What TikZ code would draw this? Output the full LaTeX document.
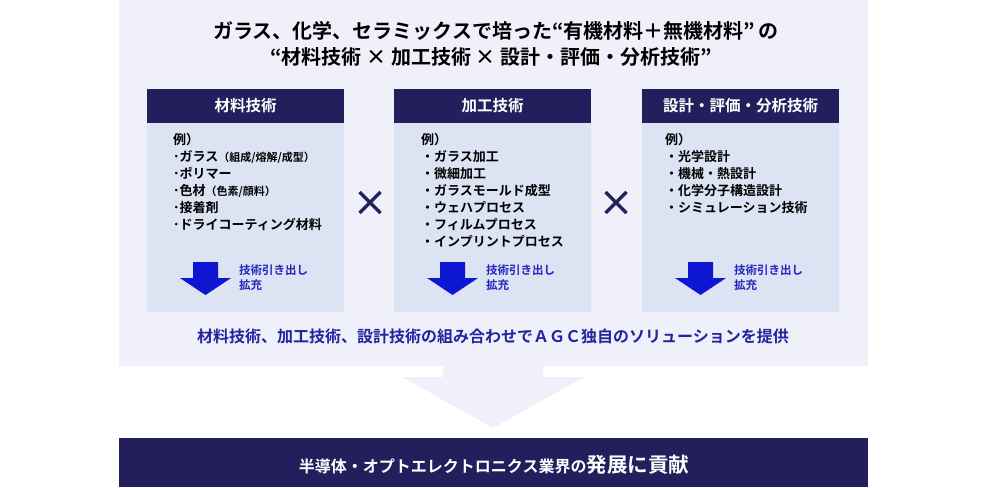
\documentclass[tikz,border=0pt]{standalone}
\usepackage{fontspec}
\setmainfont{Noto Sans CJK JP}[BoldFont={Noto Sans CJK JP Bold}]
\definecolor{panel}{HTML}{F0F0FA}
\definecolor{body}{HTML}{DCE3F3}
\definecolor{navy}{HTML}{231F5C}
\definecolor{arrowblue}{HTML}{0D16D1}
\definecolor{txtblue}{HTML}{2525C0}
\definecolor{subblue}{HTML}{2323A0}
\tikzset{
  hdr/.style={fill=navy,draw=none},
  bodybox/.style={fill=body,draw=none},
  hdrtext/.style={text=white,font=\bfseries\fontsize{15.5}{17}\selectfont,inner sep=0},
  listtext/.style={font=\bfseries\fontsize{13}{17}\selectfont,align=left,anchor=north west,inner sep=0,text=black},
  armtext/.style={font=\bfseries\fontsize{11.5}{15}\selectfont,align=left,anchor=west,inner sep=0,text=txtblue},
  timesline/.style={draw=navy,line width=3.4pt,line cap=butt},
}
\begin{document}
\begin{tikzpicture}[x=1pt,y=-1pt]
\useasboundingbox (0,0) rectangle (1000,487);
% background panel
\fill[panel] (119,0) rectangle (868,366);
% big arrow
\fill[panel] (443,365) -- (543,365) -- (543,377) -- (584,377) -- (493,428) -- (402,377) -- (443,377) -- cycle;
% bottom bar
\fill[navy] (119,438) rectangle (868,487);
% title
\node[font=\bfseries\fontsize{20}{22}\selectfont,inner sep=0] (t1) at (496,31) {ガラス、化学、セラミックスで培った“有機材料＋無機材料”\,の};
\node[font=\bfseries\fontsize{20}{22}\selectfont,inner sep=0] (t2) at (491,57) {“材料技術 × 加工技術 × 設計・評価・分析技術”};
% boxes
\foreach \bx/\nm in {147/a,394/b,642/c}{
  \fill[bodybox] (\bx,123) rectangle ({\bx+197},312);
  \fill[hdr] (\bx,89) rectangle ({\bx+197},123);
  \fill[arrowblue] ({\bx+46},262) -- ({\bx+71},262) -- ({\bx+71},278) -- ({\bx+84},278) -- ({\bx+58.5},295) -- ({\bx+33},278) -- ({\bx+46},278) -- cycle;
  \node[armtext] (arm\nm) at ({\bx+92},278) {技術引き出し\\拡充};
}
\node[hdrtext] (ha) at (245.5,106) {材料技術};
\node[hdrtext] (hb) at (492.5,106) {加工技術};
\node[hdrtext] (hc) at (740.5,106) {設計・評価・分析技術};
\node[listtext] (la) at (173,133) {例）\\･ガラス{\fontsize{11}{17}\selectfont（組成/熔解/成型）}\\･ポリマー\\･色材{\fontsize{11}{17}\selectfont（色素/顔料）}\\･接着剤\\･ドライコーティング材料};
\node[listtext] (lb) at (421,133) {例）\\・ガラス加工\\・微細加工\\・ガラスモールド成型\\・ウェハプロセス\\・フィルムプロセス\\・インプリントプロセス};
\node[listtext] (lc) at (665,133) {例）\\・光学設計\\・機械・熱設計\\・化学分子構造設計\\・シミュレーション技術};
% times signs
\foreach \cx in {370,616}{
  \draw[timesline] ({\cx-10.5},192) -- ({\cx+10.5},213);
  \draw[timesline] ({\cx+10.5},192) -- ({\cx-10.5},213);
}
% subtitle
\node[font=\bfseries\fontsize{16}{18}\selectfont,text=subblue,inner sep=0] (sub) at (493,336) {材料技術、加工技術、設計技術の組み合わせでＡＧＣ独自のソリューションを提供};
% bottom text
\node[text=white,inner sep=0,font=\bfseries] (bt) at (494,465) {\fontsize{16}{18}\selectfont 半導体・オプトエレクトロニクス業界の\fontsize{20.5}{22}\selectfont 発展に貢献};
\end{tikzpicture}
\end{document}
